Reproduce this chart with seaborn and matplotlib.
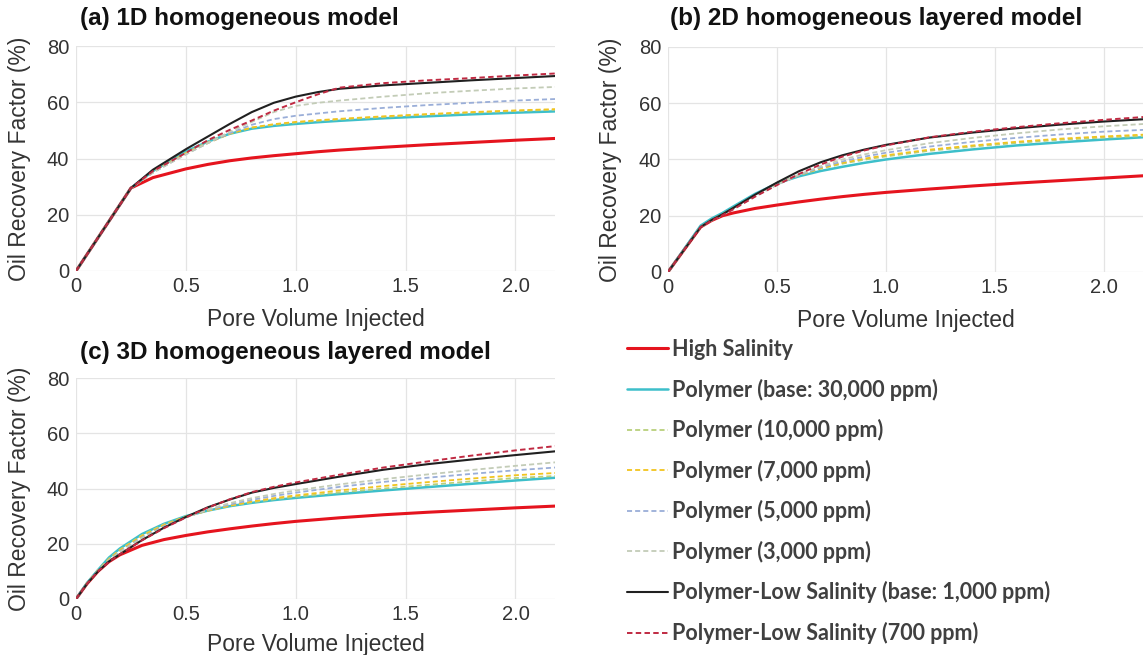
import matplotlib
matplotlib.use("Agg")
import matplotlib.pyplot as plt
from matplotlib.lines import Line2D
from matplotlib.font_manager import FontProperties
import pandas as pd
import seaborn as sns

# ---- cases -------------------------------------------------------------
cases = [
    "High Salinity",
    "Polymer (base: 30,000 ppm)",
    "Polymer (10,000 ppm)",
    "Polymer (7,000 ppm)",
    "Polymer (5,000 ppm)",
    "Polymer (3,000 ppm)",
    "Polymer-Low Salinity (base: 1,000 ppm)",
    "Polymer-Low Salinity (700 ppm)",
]

# ---- (a) 1D homogeneous model -----------------------------------------
pv_1d = [0, 0.25, 0.35, 0.5, 0.6, 0.7, 0.8, 0.9, 1.0, 1.1, 1.2, 1.4, 1.6, 1.8, 2.0, 2.2]
rf_1d_hs     = [0, 29.5, 33.2, 36.3, 37.9, 39.2, 40.2, 41.0, 41.7, 42.4, 43.0, 44.0, 44.9, 45.7, 46.5, 47.2]
rf_1d_p30000 = [0, 29.5, 35.5, 42.5, 46.0, 48.8, 50.6, 51.6, 52.3, 52.9, 53.4, 54.3, 55.0, 55.7, 56.3, 56.8]
rf_1d_p10000 = [0, 29.5, 35.5, 42.0, 45.8, 49.0, 51.0, 52.0, 52.8, 53.4, 53.9, 54.8, 55.6, 56.3, 56.9, 57.4]
rf_1d_p7000  = [0, 29.5, 35.0, 41.8, 45.5, 48.8, 51.0, 52.2, 53.0, 53.6, 54.1, 55.0, 55.8, 56.5, 57.1, 57.6]
rf_1d_p5000  = [0, 29.5, 35.0, 41.5, 45.5, 49.0, 52.0, 54.0, 55.2, 56.0, 56.8, 58.0, 59.0, 59.8, 60.6, 61.2]
rf_1d_p3000  = [0, 29.5, 35.0, 41.5, 45.5, 49.5, 53.0, 56.5, 58.7, 59.8, 60.6, 62.0, 63.2, 64.1, 64.9, 65.5]
rf_1d_pls1000 = [0, 29.5, 36.0, 43.3, 47.8, 52.3, 56.5, 59.8, 62.0, 63.6, 64.8, 66.0, 66.9, 67.8, 68.6, 69.4]
rf_1d_pls700  = [0, 29.5, 35.5, 42.0, 46.5, 50.2, 53.5, 57.0, 60.0, 62.8, 65.2, 66.8, 67.8, 68.6, 69.5, 70.3]

# ---- (b) 2D homogeneous layered model ---------------------------------
pv_2d = [0, 0.15, 0.2, 0.25, 0.3, 0.4, 0.5, 0.6, 0.7, 0.8, 0.9, 1.0, 1.2, 1.4, 1.6, 1.8, 2.0, 2.2]
rf_2d_hs      = [0, 16.0, 18.3, 20.0, 21.0, 22.6, 23.8, 24.9, 25.9, 26.8, 27.6, 28.3, 29.5, 30.6, 31.6, 32.5, 33.4, 34.3]
rf_2d_p30000  = [0, 16.5, 19.0, 21.0, 23.3, 27.8, 31.5, 34.0, 35.9, 37.4, 38.8, 40.0, 42.0, 43.6, 45.0, 46.1, 47.1, 48.0]
rf_2d_p10000  = [0, 16.0, 18.5, 20.5, 22.8, 27.4, 31.3, 34.4, 36.7, 38.5, 39.9, 41.1, 43.1, 44.6, 45.9, 47.0, 47.8, 48.4]
rf_2d_p7000   = [0, 16.0, 18.5, 20.5, 22.7, 27.2, 31.2, 34.4, 36.9, 38.8, 40.3, 41.5, 43.5, 45.0, 46.3, 47.4, 48.2, 48.9]
rf_2d_p5000   = [0, 16.0, 18.4, 20.3, 22.5, 27.0, 31.0, 34.4, 37.2, 39.3, 41.0, 42.4, 44.6, 46.3, 47.7, 48.9, 49.9, 50.6]
rf_2d_p3000   = [0, 16.0, 18.4, 20.3, 22.5, 27.0, 31.0, 34.6, 37.6, 40.0, 41.8, 43.3, 45.8, 47.7, 49.3, 50.7, 51.8, 52.7]
rf_2d_pls1000 = [0, 16.0, 18.5, 20.5, 22.8, 27.5, 31.8, 35.8, 39.0, 41.5, 43.5, 45.2, 47.8, 49.6, 51.1, 52.4, 53.5, 54.4]
rf_2d_pls700  = [0, 16.0, 18.3, 20.2, 22.3, 26.8, 30.9, 34.8, 38.2, 41.0, 43.2, 45.0, 47.9, 49.9, 51.5, 52.9, 54.1, 55.2]

# ---- (c) 3D homogeneous layered model ---------------------------------
pv_3d = [0, 0.05, 0.1, 0.15, 0.2, 0.3, 0.4, 0.5, 0.6, 0.7, 0.8, 0.9, 1.0, 1.2, 1.4, 1.6, 1.8, 2.0, 2.2]
rf_3d_hs      = [0, 5.5, 10.0, 13.5, 16.0, 19.4, 21.5, 23.0, 24.3, 25.4, 26.4, 27.3, 28.1, 29.4, 30.5, 31.4, 32.2, 33.0, 33.7]
rf_3d_p30000  = [0, 5.8, 10.5, 15.0, 18.3, 23.5, 27.2, 30.0, 32.0, 33.6, 34.8, 35.8, 36.6, 38.0, 39.3, 40.5, 41.7, 42.9, 44.0]
rf_3d_p10000  = [0, 5.7, 10.4, 14.6, 17.9, 23.1, 27.0, 29.9, 32.0, 33.7, 35.0, 36.1, 37.0, 38.6, 40.0, 41.3, 42.6, 43.8, 44.6]
rf_3d_p7000   = [0, 5.7, 10.3, 14.3, 17.6, 22.8, 26.7, 29.8, 32.0, 33.8, 35.3, 36.5, 37.5, 39.3, 40.9, 42.3, 43.6, 44.8, 45.7]
rf_3d_p5000   = [0, 5.6, 10.2, 14.0, 17.2, 22.3, 26.3, 29.6, 32.2, 34.2, 35.9, 37.3, 38.5, 40.6, 42.4, 43.9, 45.3, 46.6, 47.7]
rf_3d_p3000   = [0, 5.6, 10.2, 14.0, 17.0, 22.0, 26.0, 29.5, 32.4, 34.7, 36.5, 38.0, 39.3, 41.5, 43.4, 45.1, 46.7, 48.2, 49.6]
rf_3d_pls1000 = [0, 5.5, 10.0, 13.6, 16.2, 21.3, 25.8, 29.7, 33.2, 36.0, 38.5, 40.2, 41.6, 44.3, 46.8, 48.8, 50.5, 52.1, 53.6]
rf_3d_pls700  = [0, 5.5, 10.0, 13.5, 16.2, 21.2, 25.6, 29.5, 33.1, 36.1, 38.7, 40.6, 42.2, 45.0, 47.6, 49.8, 51.9, 53.8, 55.5]

panel_titles = [
    "(a) 1D homogeneous model",
    "(b) 2D homogeneous layered model",
    "(c) 3D homogeneous layered model",
]
x_ticks = [0, 0.5, 1.0, 1.5, 2.0]
x_ticklabels = ["0", "0.5", "1.0", "1.5", "2.0"]
y_ticks = [0, 20, 40, 60, 80]

# ---- styling -----------------------------------------------------------
palette = {
    cases[0]: "#e5141e",
    cases[1]: "#3dbfca",
    cases[2]: "#b9d07c",
    cases[3]: "#f2c41e",
    cases[4]: "#9aaed8",
    cases[5]: "#c3ccb7",
    cases[6]: "#202020",
    cases[7]: "#c02a42",
}
dash = (2.8, 1.7)
dashes = {
    cases[0]: "", cases[1]: "", cases[2]: dash, cases[3]: dash,
    cases[4]: dash, cases[5]: dash, cases[6]: "", cases[7]: dash,
}
widths = {
    cases[0]: 2.2, cases[1]: 1.8, cases[2]: 1.3, cases[3]: 1.3,
    cases[4]: 1.3, cases[5]: 1.3, cases[6]: 1.5, cases[7]: 1.4,
}


def long_frame(pv, series):
    rows = []
    for case, vals in zip(cases, series):
        for x, y in zip(pv, vals):
            rows.append((case, x, y))
    return pd.DataFrame(rows, columns=["case", "pv", "rf"])


panels = [
    long_frame(pv_1d, [rf_1d_hs, rf_1d_p30000, rf_1d_p10000, rf_1d_p7000,
                       rf_1d_p5000, rf_1d_p3000, rf_1d_pls1000, rf_1d_pls700]),
    long_frame(pv_2d, [rf_2d_hs, rf_2d_p30000, rf_2d_p10000, rf_2d_p7000,
                       rf_2d_p5000, rf_2d_p3000, rf_2d_pls1000, rf_2d_pls700]),
    long_frame(pv_3d, [rf_3d_hs, rf_3d_p30000, rf_3d_p10000, rf_3d_p7000,
                       rf_3d_p5000, rf_3d_p3000, rf_3d_pls1000, rf_3d_pls700]),
]

sns.set_theme(style="whitegrid")
plt.rcParams["font.family"] = ["Liberation Sans", "DejaVu Sans"]

W, H = 1145, 655
fig = plt.figure(figsize=(W / 100, H / 100), dpi=100)
fig.patch.set_facecolor("white")


def px_rect(left, right, top, bottom):
    return [left / W, 1 - bottom / H, (right - left) / W, (bottom - top) / H]


# (left, right, top, bottom) in pixels, plus title anchor and label offsets
layouts = [
    dict(rect=px_rect(76, 555, 46, 271), title=(80, 19), xlab=-0.165, ylab=-0.094),
    dict(rect=px_rect(668, 1143, 47, 272), title=(670, 19), xlab=-0.165, ylab=-0.097),
    dict(rect=px_rect(76, 555, 378, 599), title=(80, 353), xlab=-0.155, ylab=-0.094),
]

text_col = "#333333"
for df, lay, title in zip(panels, layouts, panel_titles):
    ax = fig.add_axes(lay["rect"])
    sns.lineplot(
        data=df, x="pv", y="rf", hue="case", style="case", size="case",
        hue_order=cases, style_order=cases, size_order=cases,
        palette=palette, dashes=dashes, sizes=widths,
        sort=False, estimator=None, legend=False, ax=ax,
    )
    ax.set_xlim(0, 2.18)
    ax.set_ylim(0, 80)
    ax.set_xticks(x_ticks)
    ax.set_xticklabels(x_ticklabels)
    ax.set_yticks(y_ticks)
    ax.grid(True, color="#e4e4e4", linewidth=0.9)
    for s in ax.spines.values():
        s.set_visible(False)
    ax.tick_params(axis="both", length=0, labelsize=14.5, colors=text_col)
    ax.tick_params(axis="x", pad=4)
    ax.tick_params(axis="y", pad=5)
    ax.set_xlabel("Pore Volume Injected", fontsize=16.5, color=text_col)
    ax.set_ylabel("Oil Recovery Factor (%)", fontsize=16.5, color=text_col)
    ax.xaxis.set_label_coords(0.5, lay["xlab"])
    ax.yaxis.set_label_coords(lay["ylab"], 0.5)
    tx, ty = lay["title"]
    fig.text(tx / W, 1 - ty / H, title, fontsize=17.5, fontweight="bold",
             color="#111111", ha="left", va="center")

handles = [
    Line2D([], [], color=palette[c], linewidth=widths[c],
           linestyle="-" if dashes[c] == "" else (0, dashes[c]))
    for c in cases
]
fig.legend(
    handles, cases, loc="upper left",
    bbox_to_anchor=(627 / W, 1 - 339 / H),
    frameon=False, borderpad=0, borderaxespad=0,
    handlelength=1.9, handletextpad=0.2, labelspacing=0.86,
    prop=FontProperties(family="Lato", weight="bold", size=15.5),
    labelcolor="#404040",
)

fig.savefig("out.png", dpi=100, facecolor="white")
